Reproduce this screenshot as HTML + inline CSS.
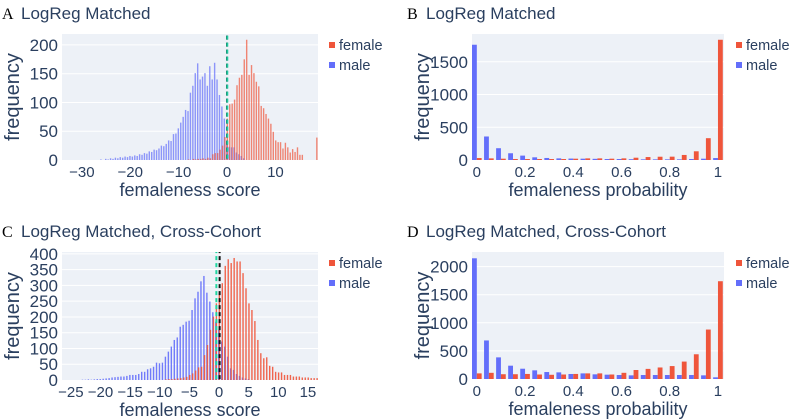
<!DOCTYPE html>
<html><head><meta charset="utf-8">
<style>
html,body{margin:0;padding:0;background:#fff;}
svg{display:block;font-family:"Liberation Sans",sans-serif;}
</style></head>
<body>
<svg id="fig" width="790" height="420" viewBox="0 0 790 420"></svg>
<script>
// ---- Panel A data (score histograms, bin 0.5) ----
const aMaleStart = -26;
const aMale = [1,0,2,1,3,2,4,3,5,4,6,5,7,6,8,7,10,9,12,11,15,14,18,17,20,25,24,28,34,33,45,46,55,65,75,87,85,117,129,151,168,140,145,151,129,163,140,169,140,113,93,72,30,23,22,22,13,10,7,3];
const aFemaleStart = -8;
const aFemale = [1,0,2,1,2,2,3,2,4,3,10,12,12,18,25,40,72,97,98,105,130,143,148,175,209,148,165,151,136,128,94,90,80,72,63,49,34,31,31,20,30,22,13,19,14,22,9,9,0,0,0,0,0,39];
const aYTicks = [0,50,100,150,200];
const aXTicks = [-30,-20,-10,0,10];
// ---- Panel C data ----
const cMaleStart = -23;
const cMale = [1,1,2,1,2,3,3,4,5,6,8,9,10,11,11,13,16,16,16,19,26,26,34,37,42,55,53,55,74,90,106,127,135,169,175,185,188,222,259,280,313,330,277,249,215,185,159,122,106,74,37,32,19,13,8,5,3];
const cFemaleStart = -9;
const cFemale = [2,3,3,4,5,6,8,10,16,21,30,40,42,79,111,159,201,243,275,307,362,383,371,387,376,376,339,291,243,222,187,127,85,69,72,45,42,26,24,24,16,16,16,11,11,11,8,8,8,6,6,6];
const cYTicks = [0,50,100,150,200,250,300,350,400];
const cXTicks = [-25,-20,-15,-10,-5,0,5,10,15];
// ---- Panel B data (probability, bins 0.05) ----
const probBins = [0,0.05,0.1,0.15,0.2,0.25,0.3,0.35,0.4,0.45,0.5,0.55,0.6,0.65,0.7,0.75,0.8,0.85,0.9,0.95,1];
const bMale = [1760,359,180,103,67,41,31,25,22,20,18,15,15,12,10,10,10,10,15,20,30];
const bFemale = [30,25,20,15,15,15,15,15,20,25,25,20,25,35,45,50,51,77,133,333,1836];
const bYTicks = [0,500,1000,1500];
// ---- Panel D data ----
const dMale = [2148,686,385,237,183,154,124,118,89,100,83,77,71,65,71,71,71,71,71,65,30];
const dFemale = [100,110,85,85,90,80,75,80,90,100,100,80,110,160,180,205,230,310,440,880,1740];
const dYTicks = [0,500,1000,1500,2000];
const pXTicks = [0,0.2,0.4,0.6,0.8,1];
const pXLabels = ["0","0.2","0.4","0.6","0.8","1"];

const NS="http://www.w3.org/2000/svg";
const svg=document.getElementById('fig');
function mk(tag,attrs,parent){const e=document.createElementNS(NS,tag);for(const k in attrs)e.setAttribute(k,attrs[k]);(parent||svg).appendChild(e);return e;}
const RED="#EF553B", BLUE="#636EFA", TXT="#2a3f5f";

function panel(p){
  const g=mk('g',{});
  
  
  const sx=v=>p.x0+(v-p.xr[0])/(p.xr[1]-p.xr[0])*(p.x1-p.x0);
  const sy=v=>p.y1-(v-p.yr[0])/(p.yr[1]-p.yr[0])*(p.y1-p.y0);
  const bg=mk('rect',{x:p.x0,y:p.y0,width:p.x1-p.x0,height:p.y1-p.y0,fill:"#edf1f7"},g);
  
  
  p.yt.forEach(t=>{
    const y=sy(t);
    if(t>0){const l=mk('line',{x1:p.x0,x2:p.x1,y1:y,y2:y,stroke:"#fff","stroke-width":1},g);
      
      }
    const tx=mk('text',{x:p.x0-4,y:y+6,"text-anchor":"end","font-size":17,fill:TXT},g);
    tx.textContent=t;
    
    
  });
  p.xt.forEach((t,i)=>{
    const tx=mk('text',{x:sx(t),y:p.y1+17,"text-anchor":"middle","font-size":15,fill:TXT},g);
    tx.textContent=p.xl?p.xl[i]:(t<0?"\u2212"+(-t):t);
    
    
  });
  const clipId='clip'+p.name;
  const cp=mk('clipPath',{id:clipId},g);
  mk('rect',{x:p.x0,y:p.y0,width:p.x1-p.x0,height:p.y1-p.y0},cp);
  const bars=mk('g',{'clip-path':'url(#'+clipId+')'},g);
  p.draw(bars,sx,sy);
  const xt=mk('text',{x:(p.x0+p.x1)/2,y:p.y1+36,"text-anchor":"middle","font-size":18,fill:TXT},g);
  xt.textContent=p.xtitle;
  
  
  const cy=(p.y0+p.y1)/2, cx=p.x0-43;
  const yt=mk('text',{x:cx,y:cy,"text-anchor":"middle","font-size":20,fill:TXT,transform:`rotate(-90 ${cx} ${cy})`},g);
  yt.textContent="frequency";
  
  
  const lt=mk('text',{x:p.lx,y:p.ty,"font-size":16,fill:"#000","font-family":"Liberation Serif, serif"},g);
  lt.textContent=p.letter;
  
  
  const tt=mk('text',{x:p.lx+19,y:p.ty,"font-size":17,fill:TXT},g);
  tt.textContent=p.title;
  
  
  [["female",RED,0],["male",BLUE,20]].forEach(([n,c,o])=>{
    const lg=mk('g',{},g);
    
    
    mk('rect',{x:p.legx,y:p.y0+8+o,width:6,height:6,fill:c},lg);
    const t=mk('text',{x:p.legx+10,y:p.y0+16+o,"font-size":14.5,fill:TXT},lg);
    t.textContent=n;
  });
}

function overlay(maleStart,male,femStart,fem,op,lines){
  return (g,sx,sy)=>{
    const w=1.4;
    male.forEach((v,i)=>{const x=sx(maleStart+i*0.5);const r=mk('rect',{x:x-w/2-0.3,y:sy(v),width:w,height:sy(0)-sy(v),fill:BLUE,opacity:op},g);
      
      });
    fem.forEach((v,i)=>{const x=sx(femStart+i*0.5);const r=mk('rect',{x:x-w/2+0.3,y:sy(v),width:w,height:sy(0)-sy(v),fill:RED,opacity:op},g);
      
      });
    lines.forEach(([v,c])=>{const l=mk('line',{x1:sx(v),x2:sx(v),y1:sy(1e6),y2:sy(0),stroke:c,"stroke-width":2,"stroke-dasharray":"4,3"},g);
      
      });
  };
}
function grouped(male,fem){
  return (g,sx,sy)=>{
    probBins.forEach((c,i)=>{
      const bw=sx(0.05)-sx(0);
      const mv=male[i]||0, fv=fem[i]||0;
      const r1=mk('rect',{x:sx(c)-0.4*bw,y:sy(mv),width:0.4*bw,height:sy(0)-sy(mv),fill:BLUE},g);
      
      
      const r2=mk('rect',{x:sx(c),y:sy(fv),width:0.4*bw,height:sy(0)-sy(fv),fill:RED},g);
      
      
    });
  };
}

panel({name:'panel-a',x0:62,x1:318,y0:34,y1:160,xr:[-34.1,18.8],yr:[0,219],yt:aYTicks,xt:aXTicks,
  xtitle:'femaleness score',letter:'A',title:'LogReg Matched',lx:2,ty:19,legx:329,
  draw:overlay(aMaleStart,aMale,aFemaleStart,aFemale,0.7,[[0,"#111"],[0.05,"#1fc9a0"]])});
panel({name:'panel-b',x0:472,x1:724,y0:34,y1:160,xr:[-0.02,1.025],yr:[0,1924],yt:bYTicks,xt:pXTicks,xl:pXLabels,
  xtitle:'femaleness probability',letter:'B',title:'LogReg Matched',lx:407,ty:19,legx:736,
  draw:grouped(bMale,bFemale)});
panel({name:'panel-c',x0:62,x1:318,y0:252,y1:380,xr:[-26.5,16.7],yr:[0,406],yt:cYTicks,xt:cXTicks,
  xtitle:'femaleness score',letter:'C',title:'LogReg Matched, Cross-Cohort',lx:2,ty:237,legx:329,
  draw:overlay(cMaleStart,cMale,cFemaleStart,cFemale,0.9,[[0.1,"#111"],[-0.45,"#1fd6a0"]])});
panel({name:'panel-d',x0:472,x1:724,y0:252,y1:379,xr:[-0.02,1.025],yr:[0,2260],yt:dYTicks,xt:pXTicks,xl:pXLabels,
  xtitle:'femaleness probability',letter:'D',title:'LogReg Matched, Cross-Cohort',lx:407,ty:237,legx:736,
  draw:grouped(dMale,dFemale)});
</script>
</body></html>
